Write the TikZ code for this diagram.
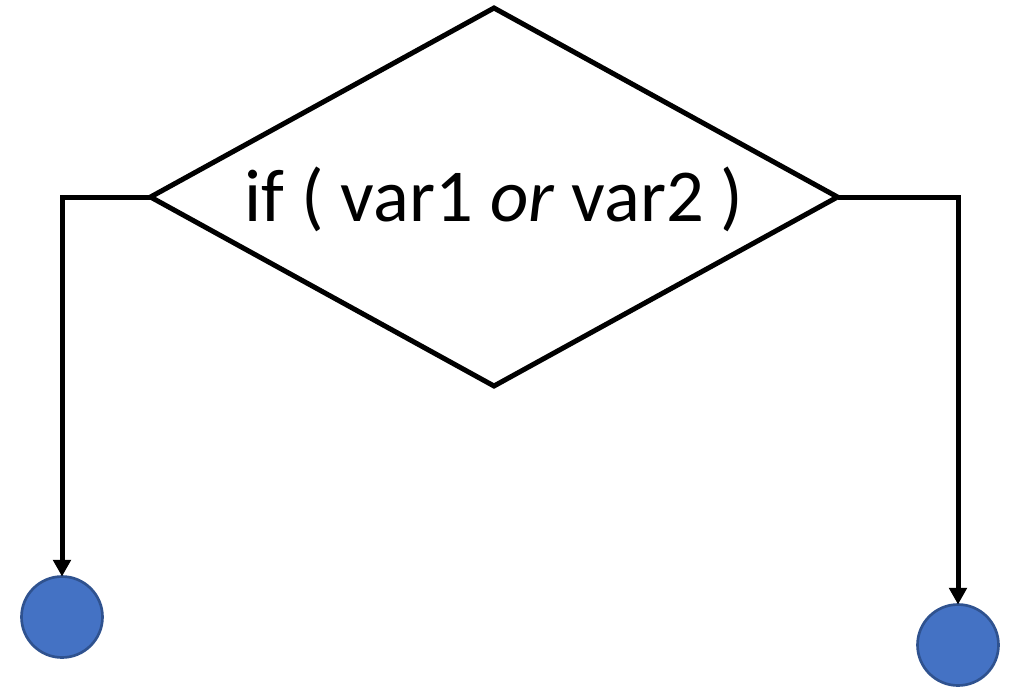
\documentclass[tikz,border=0pt]{standalone}
\usepackage{fontspec}
\setmainfont{Carlito}
\usetikzlibrary{shapes.geometric,arrows.meta}
\definecolor{dotfill}{HTML}{4472C4}
\definecolor{dotline}{HTML}{2F528F}
\begin{document}
\begin{tikzpicture}[x=0.75pt,y=-0.75pt,
  decision/.style={diamond,draw=black,line width=3.75pt,inner sep=0pt,outer sep=0pt,
    aspect=1.817,minimum width=687*0.75pt,minimum height=378*0.75pt},
  dot/.style={circle,fill=dotfill,draw=dotline,line width=2pt,minimum size=81*0.75pt,inner sep=0pt,outer sep=0pt},
  conn/.style={line width=3.75pt,-{Triangle[length=12.5pt,width=13pt]}},
  lbl/.style={font=\fontsize{56}{60}\selectfont,anchor=base,inner sep=0pt}]
\useasboundingbox (0,0) rectangle (1013,689);
\node[decision] (d) at (494,197) {};
\node[lbl] (t) at (494,221) {if ( var1 \textit{or} var2 )};
\node[dot] (c1) at (62,617) {};
\node[dot] (c2) at (958,645) {};
\draw[conn] (d.west) -| (c1.north);
\draw[conn] (d.east) -| (c2.north);
\end{tikzpicture}
\end{document}
